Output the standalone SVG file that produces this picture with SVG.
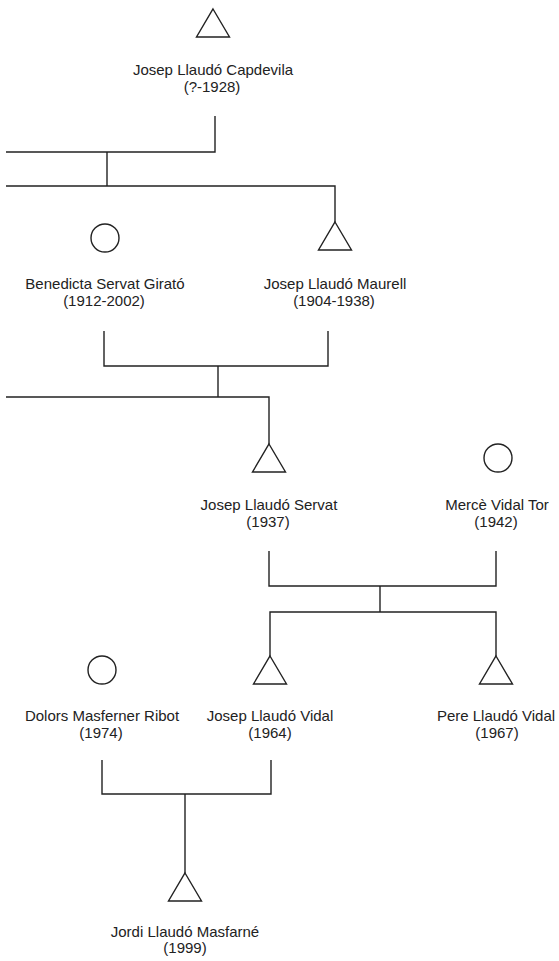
<svg xmlns="http://www.w3.org/2000/svg" width="559" height="961" viewBox="0 0 559 961">
<style>
.bg{fill:#fff}
.shape{fill:none;stroke:#222;stroke-width:1.4}
.link{fill:none;stroke:#222;stroke-width:1.4}
text{font-family:"Liberation Sans",Arial,sans-serif;font-size:15px;fill:#222;text-anchor:middle}
</style>
<defs>
<path id="tri" d="M0,0 L16.5,28 L-16.5,28 Z"/>
</defs>
<rect class="bg" x="0" y="0" width="559" height="961"/>
<g id="connectors" class="link">
<path d="M215,116 V152 H6"/>
<path d="M107,152 V186"/>
<path d="M6,186 H335 V222"/>
<path d="M104,331 V366 H328 V331"/>
<path d="M218,366 V397"/>
<path d="M6,397 H269 V444"/>
<path d="M269,551 V586 H496 V551"/>
<path d="M380,586 V612"/>
<path d="M270,656 V612 H496 V656"/>
<path d="M102,760 V794 H271 V760"/>
<path d="M185,794 V873"/>
</g>
<g id="n-capdevila">
<use href="#tri" class="shape" x="213" y="9"/>
<text x="213" y="75">Josep Llaudó Capdevila</text>
<text x="212" y="92">(?-1928)</text>
</g>
<g id="n-benedicta">
<circle class="shape" cx="105" cy="238" r="14"/>
<text x="105" y="289">Benedicta Servat Girató</text>
<text x="104" y="306">(1912-2002)</text>
</g>
<g id="n-maurell">
<use href="#tri" class="shape" x="335" y="222"/>
<text x="335" y="289">Josep Llaudó Maurell</text>
<text x="334" y="306">(1904-1938)</text>
</g>
<g id="n-servat">
<use href="#tri" class="shape" x="269" y="444"/>
<text x="269" y="510">Josep Llaudó Servat</text>
<text x="268" y="527">(1937)</text>
</g>
<g id="n-merce">
<circle class="shape" cx="498" cy="458" r="14"/>
<text x="497" y="510">Mercè Vidal Tor</text>
<text x="496" y="527">(1942)</text>
</g>
<g id="n-dolors">
<circle class="shape" cx="102" cy="670" r="14"/>
<text x="102" y="721">Dolors Masferner Ribot</text>
<text x="101" y="738">(1974)</text>
</g>
<g id="n-vidal">
<use href="#tri" class="shape" x="270" y="656"/>
<text x="270" y="721">Josep Llaudó Vidal</text>
<text x="270" y="738">(1964)</text>
</g>
<g id="n-pere">
<use href="#tri" class="shape" x="496" y="656"/>
<text x="496" y="721">Pere Llaudó Vidal</text>
<text x="497" y="738">(1967)</text>
</g>
<g id="n-jordi">
<use href="#tri" class="shape" x="185" y="873"/>
<text x="185" y="937">Jordi Llaudó Masfarné</text>
<text x="185" y="953">(1999)</text>
</g>
</svg>
